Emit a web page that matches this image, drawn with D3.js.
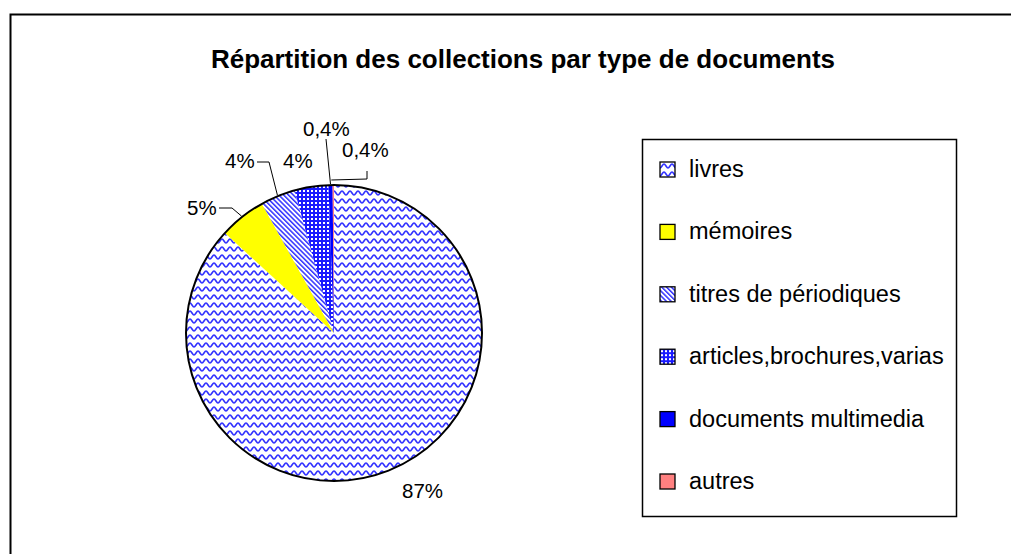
<!DOCTYPE html>
<html>
<head>
<meta charset="utf-8">
<script src="https://cdn.jsdelivr.net/npm/d3@7"></script>
<style>
  html, body { margin: 0; padding: 0; background: #fff; }
  svg { display: block; }
  text { font-family: "Liberation Sans", Arial, sans-serif; fill: #000; }
</style>
</head>
<body>
<script>
// ---- data ----
const chartTitle = "Répartition des collections par type de documents";
const categories = ["livres", "mémoires", "titres de périodiques", "articles,brochures,varias", "documents multimedia", "autres"];
const values = [86.8, 5.1, 3.8, 3.7, 0.45, 0.15];
const percentLabels = ["87%", "5%", "4%", "4%", "0,4%", "0,4%"];
const fillKeys = ["wave", "yellow", "diag", "check", "blue", "pink"];

// ---- layout ----
const W = 1011, H = 554;
const cx = 334, cy = 333, R = 148;

const svg = d3.select("body").append("svg").attr("width", W).attr("height", H);
const defs = svg.append("defs");

// patterns
const blue = "#3030ff";
const pw = defs.append("pattern").attr("id", "wave").attr("patternUnits", "userSpaceOnUse")
  .attr("width", 8).attr("height", 8);
pw.append("rect").attr("width", 8).attr("height", 8).attr("fill", "#fff");
pw.append("path").attr("d", "M-4,6 C-2.5,6 -1.5,2 0,2 C1.5,2 2.5,6 4,6 C5.5,6 6.5,2 8,2 C9.5,2 10.5,6 12,6")
  .attr("fill", "none").attr("stroke", blue).attr("stroke-width", 1.6);

const pd = defs.append("pattern").attr("id", "diag").attr("patternUnits", "userSpaceOnUse")
  .attr("width", 3.4).attr("height", 10).attr("patternTransform", "rotate(-45)");
pd.append("rect").attr("width", 3.4).attr("height", 10).attr("fill", "#fff");
pd.append("rect").attr("width", 1.5).attr("height", 10).attr("fill", blue);

const pc = defs.append("pattern").attr("id", "check").attr("patternUnits", "userSpaceOnUse")
  .attr("width", 4).attr("height", 4);
pc.append("rect").attr("width", 4).attr("height", 4).attr("fill", "#1a1aff");
pc.append("rect").attr("x", 1).attr("y", 1).attr("width", 2).attr("height", 2).attr("fill", "#fff");

const fillMap = {
  wave: "url(#wave)", yellow: "#ffff00", diag: "url(#diag)", check: "url(#check)", blue: "#0000ff", pink: "#ff8080"
};

// outer chart border (extends beyond viewport on right / bottom)
svg.append("rect").attr("x", 10.5).attr("y", 14.5).attr("width", 1100).attr("height", 700)
  .attr("fill", "none").attr("stroke", "#000").attr("stroke-width", 2);

// title
svg.append("text").attr("x", 523).attr("y", 68).attr("text-anchor", "middle")
  .attr("font-size", 26).attr("font-weight", "bold").text(chartTitle);

// pie
const pie = d3.pie().sort(null).value(d => d)(values);
const arc = d3.arc().innerRadius(0).outerRadius(R);
const g = svg.append("g").attr("transform", `translate(${cx},${cy})`);
g.selectAll("path.slice").data(pie).join("path").attr("class", "slice")
  .attr("d", arc).attr("fill", (d, i) => fillMap[fillKeys[i]]);
g.append("circle").attr("r", R).attr("fill", "none").attr("stroke", "#000").attr("stroke-width", 2);

// labels (manual placement like the original)
const labelPos = [
  { x: 402, y: 498 },
  { x: 187, y: 215, lead: [[219, 208], [232, 208]] },
  { x: 225, y: 168, lead: [[257, 162], [269, 162]] },
  { x: 283, y: 168 },
  { x: 303, y: 136, lead: [[326, 139]] },
  { x: 342, y: 157, lead: [[367, 171], [367, 179]] }
];
const edge = d => {
  const a = (d.startAngle + d.endAngle) / 2;
  return [cx + (R + 1) * Math.sin(a), cy - (R + 1) * Math.cos(a)];
};
pie.forEach((d, i) => {
  const lp = labelPos[i];
  svg.append("text").attr("x", lp.x).attr("y", lp.y).attr("font-size", 20.5).text(percentLabels[i]);
  if (lp.lead) {
    let pts = lp.lead.slice();
    const e = edge(d);
    if (i === 4) pts.push([e[0], e[1]]);
    else if (i === 5) pts.push([e[0] - 2, 180]);
    else pts.push(e);
    svg.append("path").attr("d", d3.line()(pts)).attr("fill", "none")
      .attr("stroke", "#000").attr("stroke-width", 1);
  }
});

// legend
svg.append("rect").attr("x", 642.5).attr("y", 139.5).attr("width", 314).attr("height", 377)
  .attr("fill", "#fff").attr("stroke", "#000").attr("stroke-width", 1.5);
const ly = d3.scalePoint().domain(categories).range([170, 482]);
const leg = svg.selectAll("g.leg").data(categories).join("g").attr("class", "leg")
  .attr("transform", d => `translate(0,${ly(d)})`);
leg.append("rect").attr("x", 660).attr("y", -8).attr("width", 15).attr("height", 15)
  .attr("fill", (d, i) => fillMap[fillKeys[i]]).attr("stroke", "#000").attr("stroke-width", 1.3);
leg.append("text").attr("x", 689).attr("y", 7).attr("font-size", 23.5).text(d => d);
</script>
</body>
</html>
